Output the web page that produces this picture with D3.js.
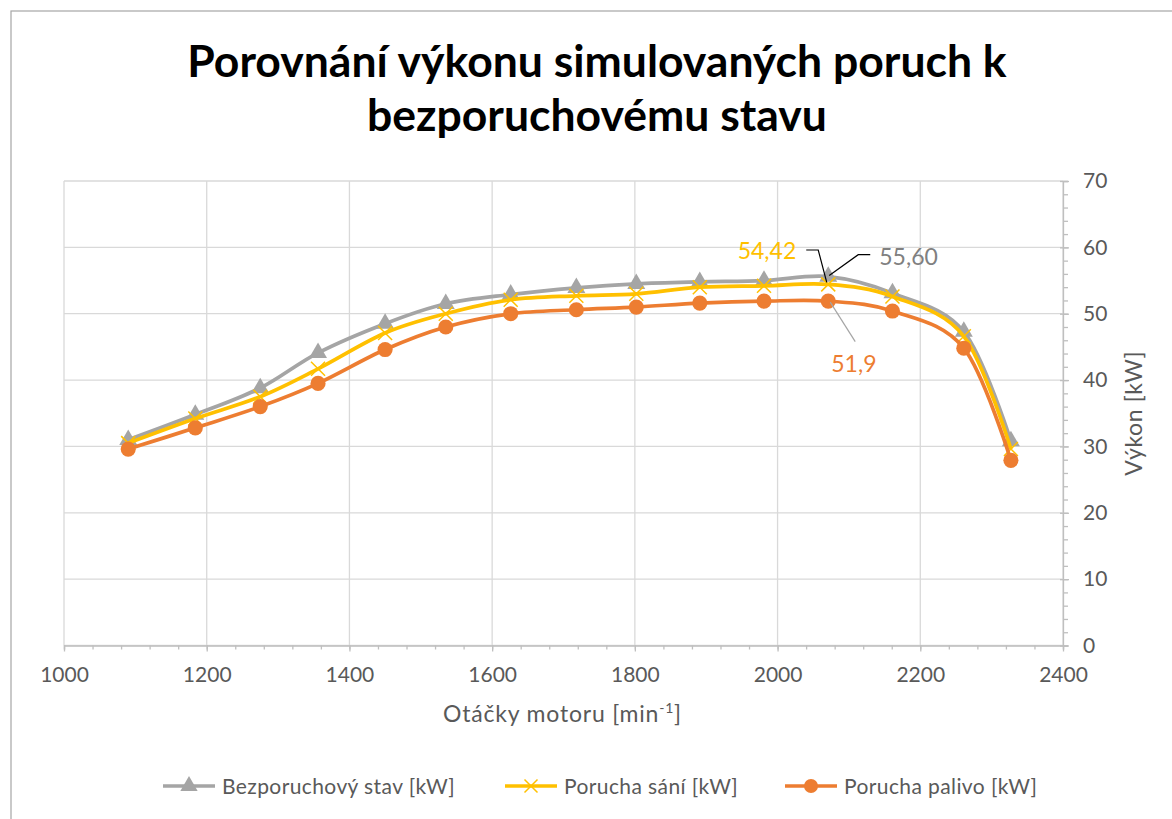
<!DOCTYPE html>
<html>
<head>
<meta charset="utf-8">
<script src="https://cdn.jsdelivr.net/npm/d3@7"></script>
<style>
  body { margin: 0; background: #fff; }
  svg text { font-family: Lato, "Noto Sans", sans-serif; }
</style>
</head>
<body>
<div id="chart"></div>
<script>
// data
const rpm = [1090, 1184, 1275, 1356, 1450, 1535, 1626, 1718, 1802, 1891, 1981, 2071, 2161, 2261, 2327];
const bezporuchovy = [31.0, 34.8, 38.8, 44.1, 48.5, 51.5, 52.9, 53.9, 54.5, 54.8, 55.0, 55.60, 53.1, 47.3, 30.8];
const poruchaSani = [30.5, 34.2, 37.5, 41.7, 47.1, 50.0, 52.1, 52.7, 53.0, 54.0, 54.2, 54.42, 52.6, 46.6, 29.6];
const poruchaPalivo = [29.6, 32.8, 36.0, 39.5, 44.6, 48.0, 50.0, 50.6, 51.0, 51.6, 51.9, 51.9, 50.4, 44.8, 27.9];
const seriesNames = ["Bezporuchový stav [kW]", "Porucha sání [kW]", "Porucha palivo [kW]"];
const xTicks = [1000, 1200, 1400, 1600, 1800, 2000, 2200, 2400];
const yTicks = [0, 10, 20, 30, 40, 50, 60, 70];
const titleLines = ["Porovnání výkonu simulovaných poruch k", "bezporuchovému stavu"];

const W = 1172, H = 819;
const plotL = 64, plotR = 1063, plotT = 181, plotB = 645.5;

const svg = d3.select("#chart").append("svg")
  .attr("width", W).attr("height", H);

// chart border
svg.append("rect")
  .attr("x", 11).attr("y", 11)
  .attr("width", W).attr("height", H)
  .attr("fill", "#fff").attr("stroke", "#a6a6a6").attr("stroke-width", 1.2);

const x = d3.scaleLinear().domain([1000, 2400]).range([plotL, plotR]);
const y = d3.scaleLinear().domain([0, 70]).range([plotB, plotT]);

// title
svg.append("text")
  .attr("text-anchor", "middle")
  .style("font-weight", "bold")
  .style("font-size", "44.5px")
  .attr("fill", "#000")
  .selectAll("tspan")
  .data(titleLines)
  .enter().append("tspan")
  .attr("x", 597)
  .attr("y", (d, i) => 77 + i * 54)
  .text(d => d);

// gridlines
svg.append("g")
  .selectAll("line")
  .data(xTicks)
  .enter().append("line")
  .attr("x1", d => x(d)).attr("x2", d => x(d))
  .attr("y1", plotT).attr("y2", plotB)
  .attr("stroke", "#d9d9d9").attr("stroke-width", 1.3);

svg.append("g")
  .selectAll("line")
  .data(yTicks)
  .enter().append("line")
  .attr("x1", plotL).attr("x2", plotR)
  .attr("y1", d => y(d)).attr("y2", d => y(d))
  .attr("stroke", "#d9d9d9").attr("stroke-width", 1.3);

// x axis
const xAxis = svg.append("g")
  .attr("transform", `translate(0,${plotB})`)
  .call(d3.axisBottom(x).tickValues(d3.range(1000, 2401, 40)).tickSize(4).tickFormat(""));
xAxis.selectAll("line").attr("stroke", "#bfbfbf").attr("stroke-width", 1.3);
xAxis.select(".domain").attr("stroke", "#bfbfbf").attr("stroke-width", 1.3);

const xMajor = svg.append("g")
  .attr("transform", `translate(0,${plotB})`)
  .call(d3.axisBottom(x).tickValues(xTicks).tickSize(6).tickPadding(16).tickFormat(d3.format("d")));
xMajor.select(".domain").remove();
xMajor.selectAll("line").attr("stroke", "#bfbfbf").attr("stroke-width", 1.3);
xMajor.selectAll("text")
  .style("font-size", "21px").attr("fill", "#595959");

// y axis on the right
const yAxis = svg.append("g")
  .attr("transform", `translate(${plotR},0)`)
  .call(d3.axisRight(y).tickValues(d3.range(0, 71, 2)).tickSize(5).tickFormat(""));
yAxis.selectAll("line").attr("stroke", "#bfbfbf").attr("stroke-width", 1.3);
yAxis.select(".domain").attr("stroke", "#bfbfbf").attr("stroke-width", 1.3);

const yMajor = svg.append("g")
  .attr("transform", `translate(${plotR},0)`)
  .call(d3.axisRight(y).tickValues(yTicks).tickSize(6).tickPadding(14));
yMajor.select(".domain").remove();
yMajor.selectAll("line").attr("x1", -3).attr("stroke", "#bfbfbf").attr("stroke-width", 1.3);
yMajor.selectAll("text")
  .style("font-size", "21px").attr("fill", "#595959");

// axis titles
const xTitle = svg.append("text")
  .attr("text-anchor", "middle")
  .attr("x", x(1700) - 1).attr("y", 722)
  .style("font-size", "23px").style("letter-spacing", "0.8px").attr("fill", "#595959");
xTitle.append("tspan").text("Otáčky motoru [min");
xTitle.append("tspan").attr("dy", -9).style("font-size", "14px").text("-1");
xTitle.append("tspan").attr("dy", 9).text("]");

svg.append("text")
  .attr("text-anchor", "middle")
  .attr("transform", `translate(1142,${y(35)}) rotate(-90)`)
  .style("font-size", "23px").style("letter-spacing", "0.6px").attr("fill", "#595959")
  .text("Výkon [kW]");

// series
const series = [
  { name: seriesNames[0], values: bezporuchovy, color: "#a5a5a5", marker: "triangle" },
  { name: seriesNames[1], values: poruchaSani, color: "#ffc000", marker: "x" },
  { name: seriesNames[2], values: poruchaPalivo, color: "#ed7d31", marker: "circle" }
];

const line = d3.line()
  .x((d, i) => x(rpm[i]))
  .y(d => y(d))
  .curve(d3.curveCardinal.tension(0));

function drawMarker(g, type, color, size) {
  if (type === "triangle") {
    g.append("path")
      .attr("d", d3.symbol().type(d3.symbolTriangle).size(size * 10)())
      .attr("fill", color);
  } else if (type === "x") {
    const s = size * 0.5;
    g.append("path")
      .attr("d", `M${-s},${-s}L${s},${s}M${-s},${s}L${s},${-s}`)
      .attr("stroke", color).attr("stroke-width", 1.5).attr("fill", "none");
  } else {
    g.append("circle").attr("r", size * 0.54).attr("fill", color);
  }
}

series.forEach(s => {
  svg.append("path")
    .datum(s.values)
    .attr("fill", "none")
    .attr("stroke", s.color)
    .attr("stroke-width", 3.7)
    .attr("stroke-linejoin", "round")
    .attr("d", line);

  s.values.forEach((v, i) => {
    const g = svg.append("g").attr("transform", `translate(${x(rpm[i])},${y(v)})`);
    drawMarker(g, s.marker, s.color, 14);
  });
});

// data labels with leader lines at 2071
const peak = 11;
const px = x(rpm[peak]);
svg.append("path")
  .attr("d", `M${px - 22},${y(59.6)}L${px - 10},${y(59.6)}L${px - 1.5},${y(poruchaSani[peak]) - 2}`)
  .attr("fill", "none").attr("stroke", "#000").attr("stroke-width", 1.2);
svg.append("path")
  .attr("d", `M${px + 42},${y(58.9)}L${px + 30},${y(58.9)}L${px + 1},${y(bezporuchovy[peak]) - 1}`)
  .attr("fill", "none").attr("stroke", "#000").attr("stroke-width", 1.2);
svg.append("path")
  .attr("d", `M${px + 2},${y(poruchaPalivo[peak]) + 1}L${px + 27},${y(45.8)}`)
  .attr("fill", "none").attr("stroke", "#a5a5a5").attr("stroke-width", 1.2);

svg.append("text")
  .attr("x", px - 32).attr("y", 259).attr("text-anchor", "end")
  .style("font-size", "23px").attr("fill", "#ffc000")
  .text(d3.format(".2f")(poruchaSani[peak]).replace(".", ","));
svg.append("text")
  .attr("x", px + 51).attr("y", 265)
  .style("font-size", "23px").attr("fill", "#808080")
  .text(d3.format(".2f")(bezporuchovy[peak]).replace(".", ","));
svg.append("text")
  .attr("x", px + 3).attr("y", 372)
  .style("font-size", "23px").attr("fill", "#ed7d31")
  .text(String(poruchaPalivo[peak]).replace(".", ","));

// legend
const legendX = [163, 505, 785];
series.forEach((s, i) => {
  const g = svg.append("g").attr("transform", `translate(${legendX[i]},786)`);
  g.append("line").attr("x1", 0).attr("x2", 52).attr("y1", 0).attr("y2", 0)
    .attr("stroke", s.color).attr("stroke-width", 3.7);
  const m = g.append("g").attr("transform", "translate(26,0)");
  drawMarker(m, s.marker, s.color, 13);
  g.append("text")
    .attr("x", 59).attr("y", 8)
    .style("font-size", "21px").style("letter-spacing", "0.4px").attr("fill", "#595959")
    .text(s.name);
});
</script>
</body>
</html>
